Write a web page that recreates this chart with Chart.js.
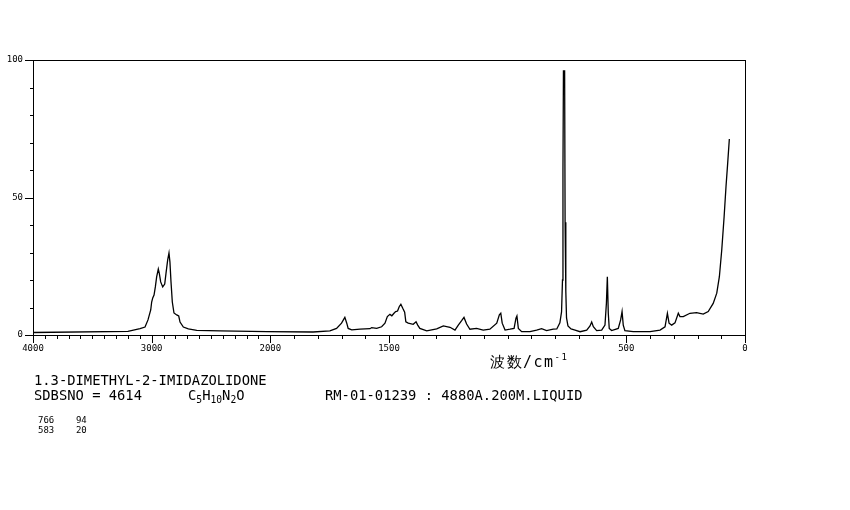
<!DOCTYPE html>
<html>
<head>
<meta charset="utf-8">
<script src="https://cdn.jsdelivr.net/npm/chart.js@4.4.1/dist/chart.umd.min.js"></script>
<style>
    body { margin: 0; background: #fff; }
    #wrap { position: relative; width: 850px; height: 510px; }
    canvas { position: absolute; left: 0; top: 0; }
    .t { position: absolute; font-family: "DejaVu Sans Mono", "Liberation Mono", monospace; color: #000; white-space: pre; line-height: 1; }
    .t sub { font-size: 70%; vertical-align: -3px; line-height: 0; }
    .t sup { font-size: 60%; vertical-align: 7px; line-height: 0; }
</style>
</head>
<body>
<div id="wrap">
    <canvas id="spectrum" width="850" height="510"></canvas>
    <div class="t" style="left:490px;top:355px;font-size:15px;letter-spacing:1.5px;">波数/cm<sup>-1</sup></div>
    <div class="t" style="left:34px;top:374px;font-size:13.8px;">1.3-DIMETHYL-2-IMIDAZOLIDONE</div>
    <div class="t" style="left:34px;top:389px;font-size:13.8px;">SDBSNO = 4614</div>
    <div class="t" style="left:188px;top:389px;font-size:13.8px;">C<sub>5</sub>H<sub>10</sub>N<sub>2</sub>O</div>
    <div class="t" style="left:325px;top:389px;font-size:13.8px;">RM-01-01239 : 4880A.200M.LIQUID</div>
    <div class="t" id="peaks" style="left:38px;top:415px;font-size:9px;line-height:10px;"></div>
</div>
<script>
    "use strict";

    // Raman shift (cm-1) and intensity
    var wavenumbers = [4000, 3200, 3098, 3056, 3031, 3008, 3000, 2991, 2980, 2969, 2958, 2944, 2936, 2924, 2907, 2890,
        2879, 2865, 2854, 2846, 2837, 2826, 2812, 2789, 2772, 2761, 2733, 2691, 2620, 2424, 2028, 1820,
        1749, 1721, 1700, 1686, 1678, 1672, 1657, 1622, 1580, 1573, 1552, 1531, 1517, 1507, 1496, 1488,
        1479, 1472, 1464, 1457, 1450, 1442, 1434, 1429, 1419, 1398, 1386, 1379, 1370, 1341, 1299, 1271,
        1243, 1222, 1208, 1194, 1184, 1173, 1159, 1131, 1103, 1075, 1046, 1035, 1029, 1023, 1011, 990,
        973, 965, 961, 955, 941, 906, 878, 857, 836, 808, 793, 780, 773, 769, 767, 765,
        760, 758, 755, 752, 746, 733, 716, 695, 667, 653, 646, 639, 625, 604, 590, 584,
        580, 576, 572, 562, 534, 524, 518, 513, 506, 471, 400, 358, 337, 327, 320, 309,
        295, 281, 274, 260, 232, 204, 176, 155, 134, 119, 108, 98, 88, 80, 73, 66];
    var intensity = [0.9, 1.3, 2.3, 2.9, 5.5, 9.1, 12.0, 13.5, 14.5, 17.5, 21.1, 24.0, 22.5, 19.3, 17.5, 18.5,
        22.5, 27.3, 29.8, 26.5, 19.3, 12.0, 8.0, 7.3, 6.9, 4.7, 2.9, 2.2, 1.7, 1.5, 1.2, 1.1,
        1.5, 2.4, 4.3, 6.4, 4.3, 2.4, 1.9, 2.1, 2.3, 2.7, 2.4, 3.0, 4.3, 6.7, 7.5, 7.0,
        7.9, 8.5, 8.7, 10.3, 11.2, 9.7, 8.3, 4.8, 4.3, 3.9, 4.8, 3.6, 2.4, 1.5, 2.2, 3.3,
        2.8, 1.8, 3.6, 5.2, 6.4, 4.0, 2.1, 2.4, 1.8, 2.1, 4.3, 7.3, 7.9, 4.3, 1.8, 2.1,
        2.4, 6.1, 6.9, 2.4, 1.2, 1.2, 1.8, 2.3, 1.6, 2.1, 2.2, 4.4, 8.4, 20, 60, 96,
        96, 41, 16, 6.2, 3.3, 2.2, 1.8, 1.2, 1.8, 3.3, 4.7, 3.0, 1.6, 1.8, 3.6, 11.5,
        21.2, 7.9, 2.4, 1.6, 2.4, 5.5, 8.5, 3.6, 1.6, 1.2, 1.2, 1.8, 3.0, 7.9, 4.3, 3.6,
        4.4, 7.9, 6.7, 6.7, 7.9, 8.1, 7.6, 8.5, 11.5, 15.2, 21.2, 30.9, 43, 54, 62.4, 71.3];

    var xTickLabels = [4000, 3000, 2000, 1500, 500, 0];
    var yTickLabels = [0, 50, 100];
    var peakShifts = [766, 583];
    var peakHeights = [94, 20];

    // peak table
    var rows = [];
    for (var i = 0; i < peakShifts.length; i++) {
        rows.push(String(peakShifts[i]) + "    " + String(peakHeights[i]));
    }
    document.getElementById("peaks").textContent = rows.join("\n");

    // 4000-2000 is drawn at half the scale of 2000-0
    function toAxis(w) { return w <= 2000 ? w : 2000 + (w - 2000) / 2; }
    function fromAxis(u) { return u <= 2000 ? u : 2000 + (u - 2000) * 2; }

    var points = wavenumbers.map(function (w, k) { return {x: toAxis(w), y: intensity[k]}; });

    // frame and tick marks
    var frameTicks = {
        id: "frameTicks",
        afterDraw: function (chart) {
            var ctx = chart.ctx, a = chart.chartArea;
            var xs = chart.scales.x, ys = chart.scales.y;
            ctx.save();
            ctx.strokeStyle = "#000";
            ctx.lineWidth = 1;
            ctx.strokeRect(Math.round(a.left) + 0.5, Math.round(a.top) + 0.5,
                Math.round(a.right - a.left), Math.round(a.bottom - a.top));
            ctx.beginPath();
            for (var w = 0; w <= 4000; w += 100) {
                var px = Math.round(xs.getPixelForValue(toAxis(w))) + 0.5;
                var len = xTickLabels.indexOf(w) >= 0 ? 8 : 4;
                ctx.moveTo(px, a.bottom);
                ctx.lineTo(px, a.bottom + len);
            }
            for (var v = 0; v <= 100; v += 10) {
                var py = Math.round(ys.getPixelForValue(v)) + 0.5;
                var l2 = yTickLabels.indexOf(v) >= 0 ? 8 : 3;
                ctx.moveTo(a.left, py);
                ctx.lineTo(a.left - l2, py);
            }
            ctx.stroke();
            ctx.restore();
        }
    };

    var tickFont = {family: "'DejaVu Sans Mono', monospace", size: 9};

    if (typeof Chart !== "undefined") {
        var ctx1 = document.getElementById("spectrum").getContext("2d");
        var spectrumChart = new Chart(ctx1, {
            type: "line",
            data: {
                datasets: [{
                    data: points,
                    borderColor: "#000",
                    borderWidth: 1.3,
                    pointRadius: 0,
                    tension: 0,
                    fill: false
                }]
            },
            options: {
                responsive: false,
                animation: false,
                layout: {padding: {top: 60, right: 105, left: 0, bottom: 0}},
                plugins: {legend: {display: false}, tooltip: {enabled: false}},
                scales: {
                    x: {
                        type: "linear",
                        min: 0,
                        max: 3000,
                        reverse: true,
                        border: {display: false},
                        grid: {display: false},
                        afterBuildTicks: function (s) {
                            s.ticks = xTickLabels.map(function (w) { return {value: toAxis(w)}; });
                        },
                        afterFit: function (s) { s.height = 175; },
                        ticks: {
                            autoSkip: false,
                            maxRotation: 0,
                            padding: 0,
                            color: "#000",
                            font: tickFont,
                            callback: function (u) { return String(Math.round(fromAxis(u))); }
                        }
                    },
                    y: {
                        min: 0,
                        max: 100,
                        border: {display: false},
                        grid: {display: false},
                        afterBuildTicks: function (s) {
                            s.ticks = yTickLabels.map(function (v) { return {value: v}; });
                        },
                        afterFit: function (s) { s.width = 33; },
                        ticks: {padding: 2, color: "#000", font: tickFont}
                    }
                }
            },
            plugins: [frameTicks]
        });
    } else {
        console.error("Chart.js не загружен");
    }
</script>
</body>
</html>
